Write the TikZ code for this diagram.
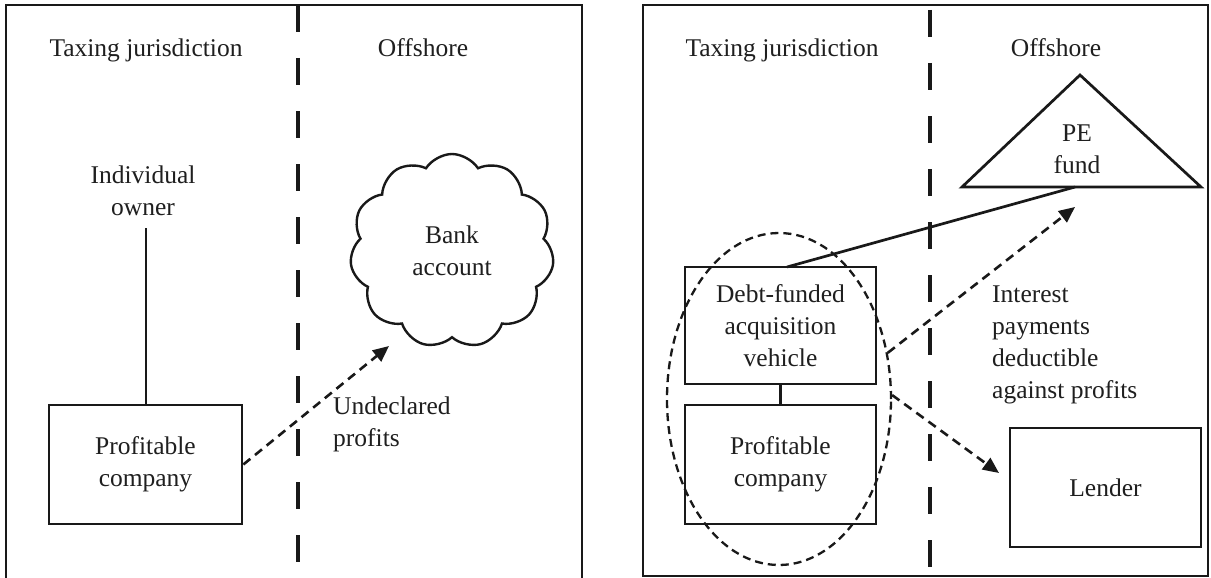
\documentclass[tikz,border=0pt]{standalone}
\usepackage{fontspec}
\setmainfont{Liberation Serif}
\usetikzlibrary{shapes.geometric,shapes.symbols,arrows.meta}
\begin{document}
\begin{tikzpicture}[x=1pt,y=-1pt,
 ink/.style={draw=black!90, line width=2.7pt},
 lbl/.style={font=\fontsize{25.5}{32}\selectfont, align=center, inner sep=0pt, text=black!88},
 lbll/.style={font=\fontsize{25.5}{32}\selectfont, align=left, inner sep=0pt, text=black!88},
 boxnode/.style={lbl, ink, rectangle},
 divider/.style={draw=black!90, line width=3.6pt, dash pattern=on 27pt off 26pt},
 flow/.style={draw=black!90, line width=2.6pt, dash pattern=on 9pt off 6pt, -{Triangle[length=16pt,width=14pt]}},
 groupring/.style={draw=black!90, line width=2.3pt, dash pattern=on 8pt off 5pt, ellipse},
]
\useasboundingbox (0,0) rectangle (1211,578);
\fill[white] (0,0) rectangle (1211,578);

% ---------------- Left panel ----------------
\coordinate (lf1) at (6,580);
\coordinate (lf2) at (6,5);
\coordinate (lf3) at (582,5);
\coordinate (lf4) at (582,580);
\draw[ink, line join=miter] (lf1) -- (lf2) -- (lf3) -- (lf4);
\coordinate (ld1) at (298,5);
\coordinate (ld2) at (298,566);
\draw[divider] (ld1) -- (ld2);

\node[lbl, anchor=base] (ltax) at (146,57) {Taxing jurisdiction};
\node[lbl, anchor=base] (loff) at (423,57) {Offshore};
\node[lbl, anchor=base] (owner) at (143,215) {Individual\\owner};
\node[boxnode, minimum width=193pt, minimum height=119pt] (pc1) at (145.5,464.5) {Profitable\\company};
\coordinate (ownerlow) at (146,228);
\draw[ink, line width=2.2pt] (ownerlow) -- (pc1.north -| ownerlow);

\node[cloud, ink, line width=2.4pt, cloud puffs=11, cloud puff arc=115, aspect=1.05,
      minimum width=204pt, minimum height=194pt, lbl] (bank) at (452,251) {Bank\\account};
\coordinate (utip) at (389,346);
\draw[flow] (pc1.east) -- (utip);
\node[lbll, anchor=base west] (undecl) at (333,446) {Undeclared\\profits};

% ---------------- Right panel ----------------
\coordinate (rf1) at (643,5);
\coordinate (rf2) at (1208,576);
\draw[ink, line join=miter] (rf1) rectangle (rf2);
\coordinate (rd1) at (930,10);
\coordinate (rd2) at (930,571);
\draw[divider] (rd1) -- (rd2);

\node[lbl, anchor=base] (rtax) at (782,57) {Taxing jurisdiction};
\node[lbl, anchor=base] (roff) at (1056,57) {Offshore};

\coordinate (peTop) at (1080,75);
\coordinate (peL) at (962,187);
\coordinate (peR) at (1201,187);
\draw[ink, line join=miter] (peTop) -- (peR) -- (peL) -- cycle;
\node[lbl, anchor=base] (pe) at (1077,173) {PE\\fund};
\coordinate (pebase) at (1075,187);

\node[boxnode, minimum width=191pt, minimum height=117pt] (debt) at (780.5,325.5) {Debt-funded\\acquisition\\vehicle};
\node[boxnode, minimum width=191pt, minimum height=119pt] (pc2) at (780.5,464.5) {Profitable\\company};
\draw[ink, line width=2.2pt] (debt.south) -- (pc2.north);
\coordinate (debttop) at (787,267);
\draw[ink] (debttop) -- (pebase);

\node[groupring, minimum width=224pt, minimum height=332pt] (grp) at (779,399) {};

\coordinate (itip) at (1075,207);
\draw[flow] (grp.23) -- (itip);
\node[lbll, anchor=base west] (interest) at (992,398) {Interest\\payments\\deductible\\against profits};

\node[boxnode, minimum width=191pt, minimum height=119pt] (lender) at (1105.5,487.5) {Lender};
\coordinate (ltip) at (999,473);
\draw[flow] (grp.2) -- (ltip);
\end{tikzpicture}
\end{document}
